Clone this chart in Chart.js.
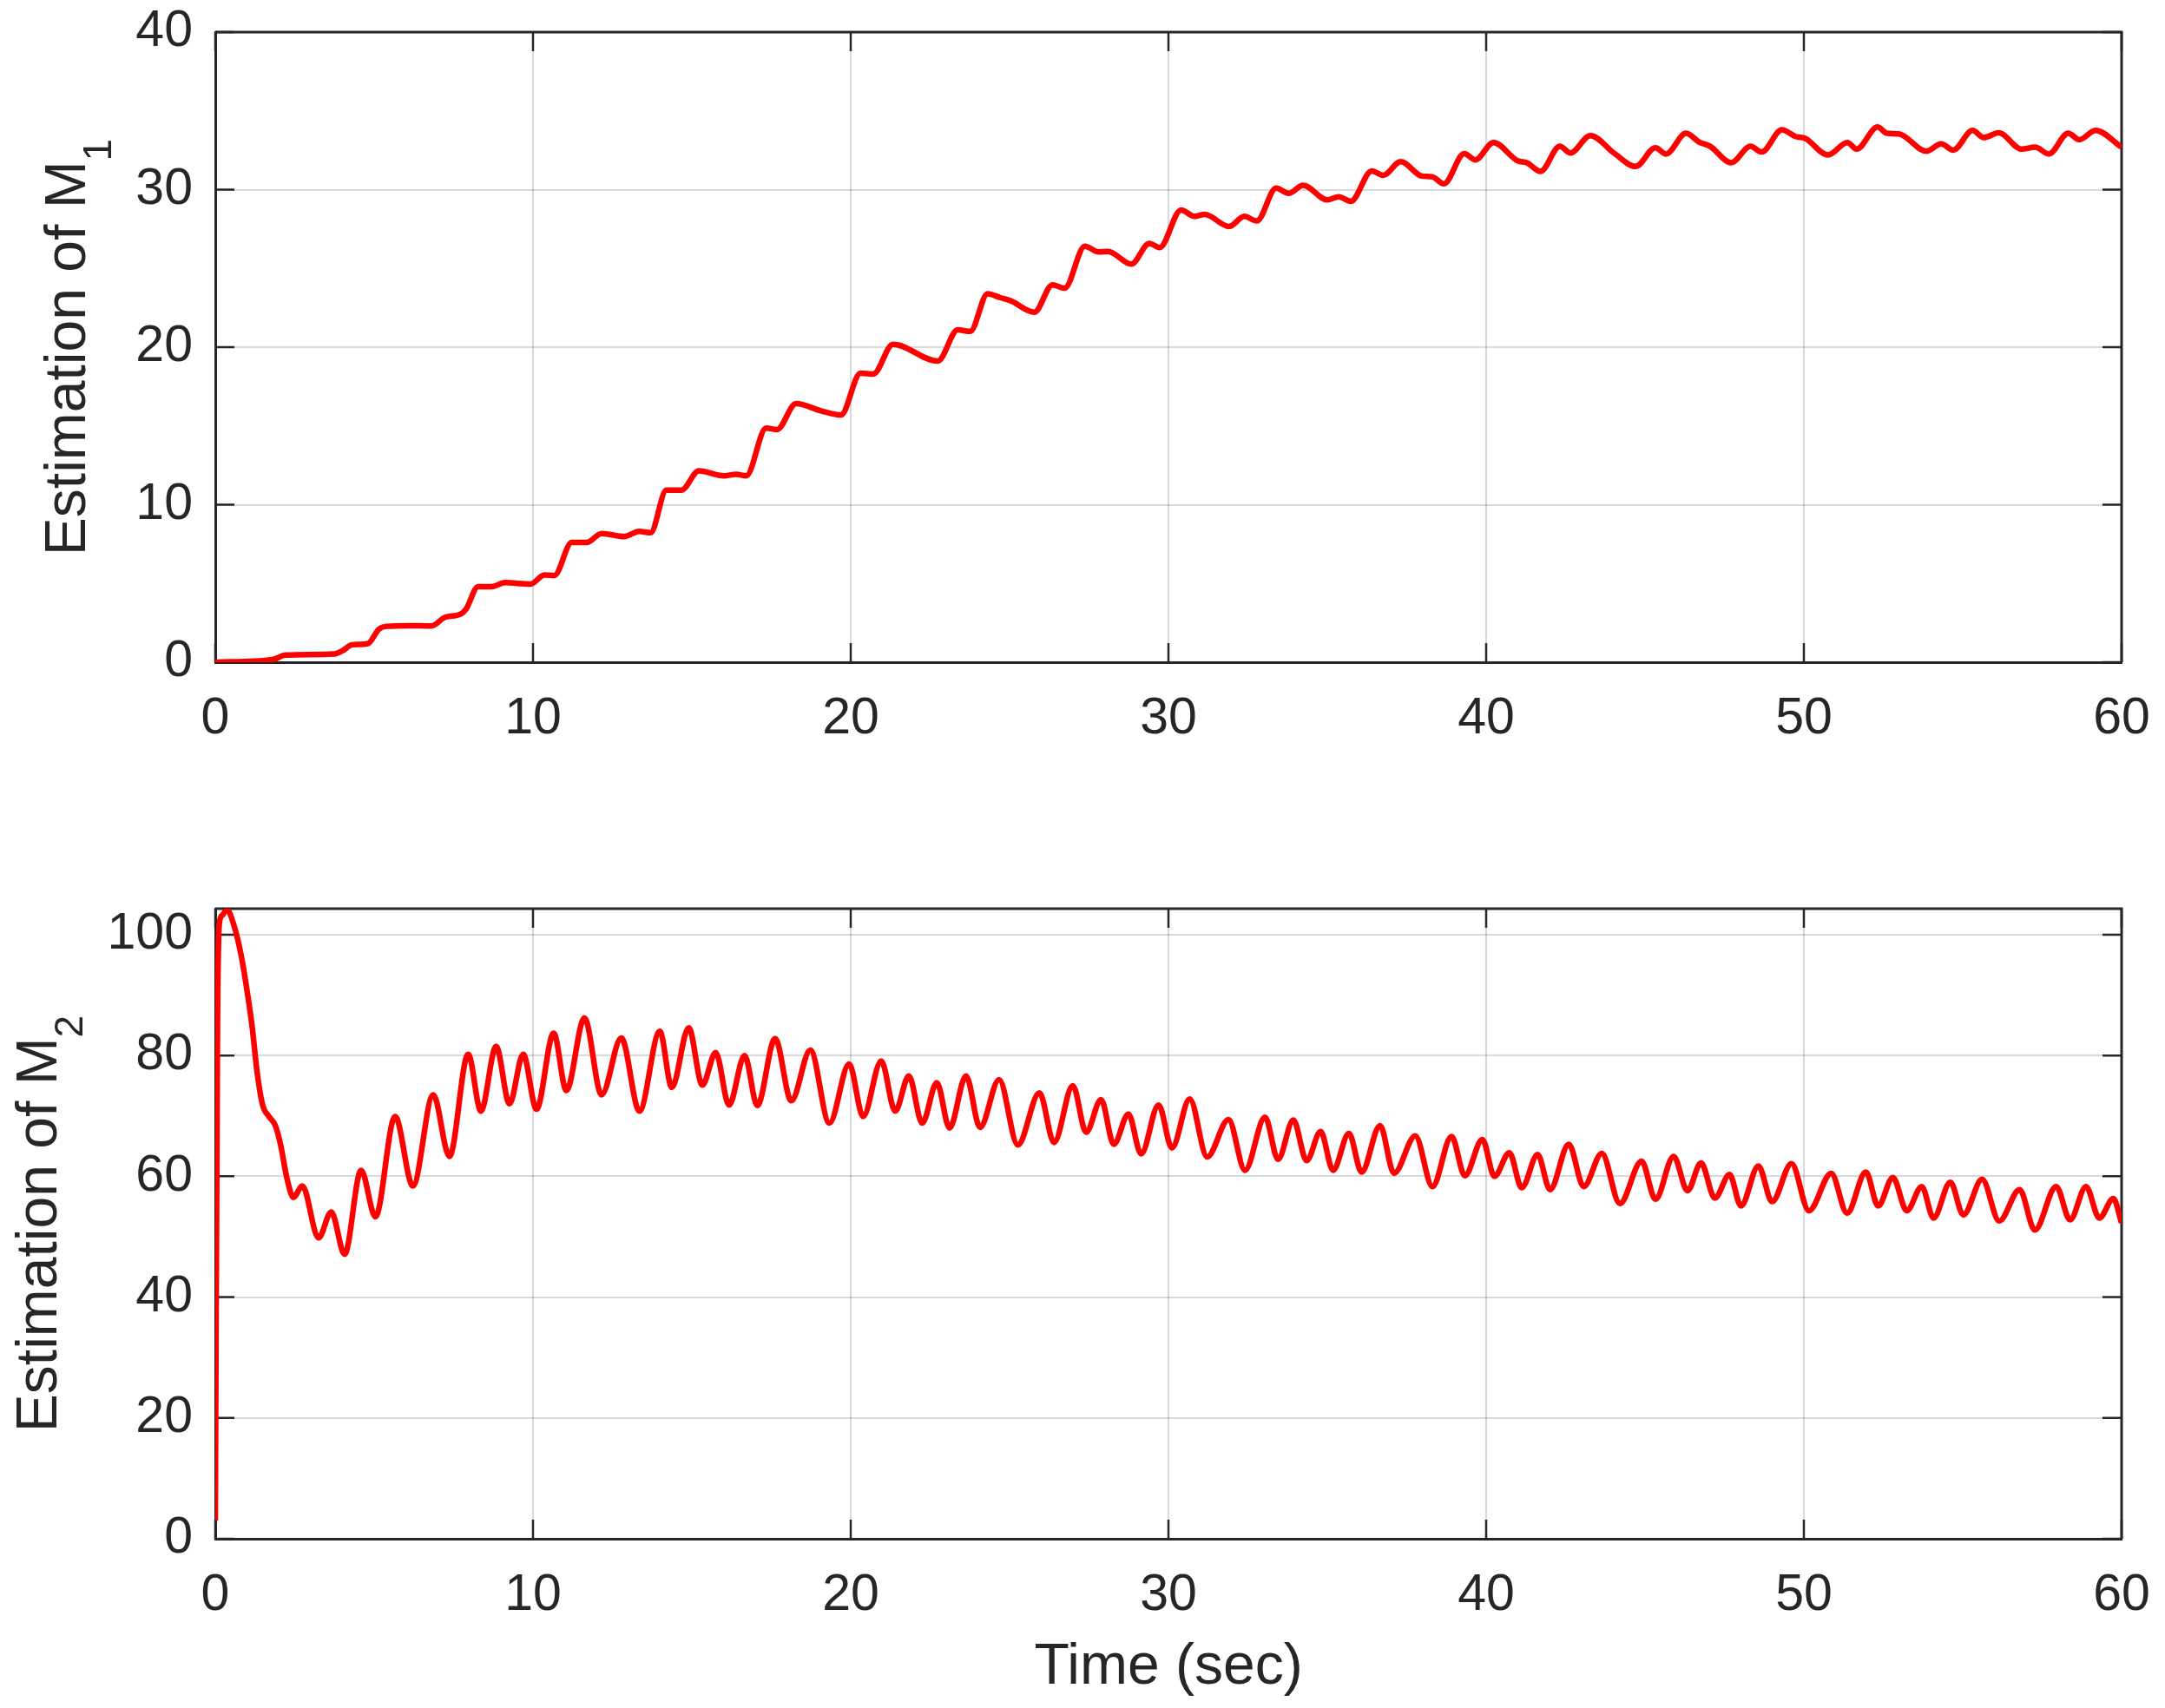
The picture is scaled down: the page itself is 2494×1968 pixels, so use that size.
<!DOCTYPE html>
<html>
<head>
<meta charset="utf-8">
<title>Estimation of M1 and M2</title>
<script src="https://cdn.jsdelivr.net/npm/chart.js@4.4.1/dist/chart.umd.min.js"></script>
<style>
  html, body { margin: 0; padding: 0; background: #fff; }
  canvas { position: absolute; left: 0; }
  #chart-m1 { top: 0; }
  #chart-m2 { top: 984px; }
</style>
</head>
<body>
<canvas id="chart-m1" width="2494" height="984"></canvas>
<canvas id="chart-m2" width="2494" height="984"></canvas>
<script>
// values (time in sec)
const timeTicks = [0, 10, 20, 30, 40, 50, 60];
const m1Ticks = [0, 10, 20, 30, 40];
const m2Ticks = [0, 20, 40, 60, 80, 100];

const m1Time = [0, 1.8, 2.22, 3.75, 4.0, 4.3, 4.8, 5.15, 5.4, 6.1, 6.8, 7.23, 7.72, 7.9, 8.27, 8.7, 9.12, 9.92,
  10.36, 10.67, 11.22, 11.69, 12.16, 12.87, 13.34, 13.7, 14.2, 14.67, 15.22, 16.0, 16.39, 16.71, 17.34, 17.68,
  18.28, 19.06, 19.69, 20.31, 20.71, 21.33, 22.74, 23.37, 23.76, 24.31, 24.71, 25.03, 25.78, 26.35, 26.73,
  27.37, 27.81, 28.1, 28.83, 29.4, 29.72, 30.4, 30.82, 31.14, 31.91, 32.39, 32.78, 33.39, 33.78, 34.24, 35.0,
  35.36, 35.74, 36.4, 36.76, 37.31, 37.98, 38.3, 38.67, 39.31, 39.66, 40.23, 40.99, 41.28, 41.71, 42.32, 42.65,
  43.28, 44.04, 44.7, 45.33, 45.66, 46.29, 46.7, 47.05, 47.71, 48.32, 48.67, 49.31, 49.75, 50.04, 50.76, 51.37,
  51.66, 52.32, 52.61, 52.99, 53.85, 54.32, 54.7, 55.31, 55.66, 56.13, 56.86, 57.28, 57.71, 58.32, 58.67,
  59.18, 60.0];
const m1Values = [0, 0.17, 0.45, 0.52, 0.72, 1.1, 1.18, 2.1, 2.28, 2.32, 2.3, 2.85, 3.05, 3.4, 4.8, 4.8, 5.05, 4.96,
  5.54, 5.5, 7.6, 7.6, 8.17, 7.98, 8.31, 8.22, 10.92, 10.92, 12.15, 11.83, 11.93, 11.83, 14.86, 14.77,
  16.42, 15.96, 15.69, 18.35, 18.29, 20.18, 19.12, 21.1, 21.0, 23.39, 23.14, 22.95, 22.22, 23.96, 23.74,
  26.41, 26.04, 26.08, 25.27, 26.59, 26.32, 28.71, 28.3, 28.43, 27.66, 28.3, 28.01, 30.09, 29.76, 30.27, 29.35,
  29.54, 29.26, 31.19, 30.91, 31.78, 30.86, 30.82, 30.37, 32.29, 31.89, 32.99, 31.83, 31.71, 31.16, 32.75, 32.33,
  33.43, 32.29, 31.47, 32.66, 32.26, 33.58, 33.03, 32.75, 31.71, 32.75, 32.39, 33.8, 33.36, 33.25, 32.2, 32.99,
  32.57, 33.98, 33.58, 33.54, 32.44, 32.9, 32.51, 33.76, 33.3, 33.61, 32.57, 32.7, 32.26, 33.58, 33.17,
  33.76, 32.7];

const m2Time = [0, 0.07, 0.13, 0.22, 0.36, 0.59, 0.81, 0.98, 1.15, 1.32, 1.49, 1.69, 1.89, 2.06, 2.25, 2.46, 2.74,
  3.25, 3.65, 4.07, 4.59, 5.04, 5.66, 6.22, 6.86, 7.37, 7.96, 8.36, 8.84, 9.26, 9.69, 10.11, 10.65, 11.05,
  11.62, 12.16, 12.78, 13.35, 13.99, 14.37, 14.9, 15.33, 15.75, 16.17, 16.66, 17.06, 17.62, 18.13, 18.73,
  19.33, 19.95, 20.39, 20.96, 21.4, 21.83, 22.25, 22.71, 23.11, 23.63, 24.07, 24.67, 25.26, 25.94, 26.4,
  26.99, 27.41, 27.88, 28.28, 28.74, 29.14, 29.69, 30.11, 30.67, 31.22, 31.89, 32.41, 33.04, 33.45, 33.93,
  34.35, 34.79, 35.18, 35.68, 36.08, 36.66, 37.1, 37.77, 38.31, 38.91, 39.33, 39.88, 40.26, 40.73, 41.12,
  41.62, 42.01, 42.6, 43.07, 43.64, 44.21, 44.89, 45.33, 45.9, 46.34, 46.76, 47.2, 47.66, 48.02, 48.57, 49.0,
  49.61, 50.16, 50.86, 51.36, 51.95, 52.34, 52.8, 53.24, 53.71, 54.08, 54.61, 55.02, 55.61, 56.15, 56.79,
  57.27, 57.94, 58.38, 58.88, 59.3, 59.74, 60.0];
const m2Values = [3, 85, 102, 103.2, 104.2, 101.5, 96.7, 91.4, 85.2, 77.1, 71.8, 69.9, 68.4, 65.1, 59.8, 56.5, 58.4,
  49.8, 54.1, 47.1, 61.0, 53.3, 69.9, 58.4, 73.5, 63.3, 80.2, 70.8, 81.5, 72.0, 80.2, 71.1, 83.7, 74.2,
  86.2, 73.5, 82.9, 70.8, 84.0, 74.7, 84.6, 75.1, 80.5, 71.8, 80.0, 71.7, 82.8, 72.5, 80.9,
  68.8, 78.6, 69.9, 79.1, 70.8, 76.6, 68.8, 75.5, 68.0, 76.6, 68.1, 76.0, 65.2, 73.8, 65.6,
  75.0, 67.3, 72.7, 65.3, 70.3, 63.7, 71.8, 64.7, 72.8, 63.2, 69.4, 61.0, 69.8, 62.8, 69.3,
  62.6, 67.4, 61.0, 67.1, 60.7, 68.4, 60.5, 66.7, 58.3, 66.6, 60.1, 66.1, 60.0, 63.9, 58.1,
  63.6, 57.8, 65.3, 58.3, 63.8, 55.5, 62.5, 56.2, 63.3, 57.6, 62.2, 56.4, 60.3, 55.1, 61.7, 55.8,
  62.1, 54.3, 60.5, 53.9, 60.7, 55.1, 59.8, 54.3, 58.3, 53.1, 59.0, 53.6, 59.5, 52.6, 57.8,
  51.1, 58.3, 52.8, 58.3, 53.1, 56.3, 52.3];

const AXIS_COLOR = "#262626";
const FONT = "'Liberation Sans', Arial, Helvetica, sans-serif";

// MATLAB-style box, inward ticks and titles (M with subscript)
const matlabAxes = {
  id: "matlabAxes",
  beforeDatasetsDraw(chart) {
    const { ctx, chartArea: a, scales } = chart;
    const len = 22;
    ctx.save();
    ctx.strokeStyle = AXIS_COLOR;
    ctx.lineWidth = 3;
    ctx.beginPath();
    ctx.moveTo(a.left, a.top);
    ctx.lineTo(a.right, a.top);
    ctx.lineTo(a.right, a.bottom);
    ctx.stroke();
    ctx.lineWidth = 2.5;
    ctx.beginPath();
    scales.x.ticks.forEach((t) => {
      const px = scales.x.getPixelForValue(t.value);
      ctx.moveTo(px, a.bottom);
      ctx.lineTo(px, a.bottom - len);
      ctx.moveTo(px, a.top);
      ctx.lineTo(px, a.top + len);
    });
    scales.y.ticks.forEach((t) => {
      const py = scales.y.getPixelForValue(t.value);
      ctx.moveTo(a.left, py);
      ctx.lineTo(a.left + len, py);
      ctx.moveTo(a.right, py);
      ctx.lineTo(a.right - len, py);
    });
    ctx.stroke();
    ctx.restore();
  },
  afterDraw(chart, args, opts) {
    const { ctx, chartArea: a } = chart;
    ctx.save();
    ctx.fillStyle = AXIS_COLOR;
    ctx.textBaseline = "alphabetic";
    ctx.textAlign = "left";

    // y title, rotated, with subscript
    ctx.font = "66px " + FONT;
    const w = ctx.measureText(opts.yTitle).width;
    ctx.font = "46px " + FONT;
    const ws = ctx.measureText(opts.ySub).width;
    ctx.translate(opts.yTitleX, (a.top + a.bottom) / 2);
    ctx.rotate(-Math.PI / 2);
    const x0 = -(w + ws) / 2;
    ctx.font = "66px " + FONT;
    ctx.fillText(opts.yTitle, x0, 0);
    ctx.font = "46px " + FONT;
    ctx.fillText(opts.ySub, x0 + w, 30);
    ctx.restore();

    if (opts.xTitle) {
      ctx.save();
      ctx.fillStyle = AXIS_COLOR;
      ctx.font = "66px " + FONT;
      ctx.textAlign = "center";
      ctx.textBaseline = "alphabetic";
      ctx.fillText(opts.xTitle, (a.left + a.right) / 2, opts.xTitleY);
      ctx.restore();
    }
  },
};

// keep tick labels from pushing the plot area around
function noLabelPadding(s) {
  s.paddingTop = 0;
  s.paddingBottom = 0;
  s.paddingLeft = 0;
  s.paddingRight = 0;
}

function makeChart(id, time, values, yTicks, yMax, pad, xHeight, titleOpts) {
  return new Chart(document.getElementById(id), {
    type: "line",
    data: {
      datasets: [
        {
          data: time.map((t, i) => ({ x: t, y: values[i] })),
          borderColor: "#ff0000",
          borderWidth: 6.5,
          pointRadius: 0,
          fill: false,
          cubicInterpolationMode: "monotone",
        },
      ],
    },
    options: {
      responsive: false,
      animation: false,
      devicePixelRatio: 1,
      layout: { padding: pad },
      scales: {
        x: {
          type: "linear",
          min: 0,
          max: 60,
          afterBuildTicks: (s) => {
            s.ticks = timeTicks.map((v) => ({ value: v }));
          },
          afterFit: (s) => {
            s.height = xHeight;
            noLabelPadding(s);
          },
          ticks: {
            color: AXIS_COLOR,
            font: { family: FONT, size: 59 },
            padding: 30,
            maxRotation: 0,
            callback: (v) => String(v),
          },
          grid: { color: "rgba(0,0,0,0.15)", lineWidth: 2, drawTicks: false },
          border: { color: AXIS_COLOR, width: 3 },
        },
        y: {
          min: 0,
          max: yMax,
          afterBuildTicks: (s) => {
            s.ticks = yTicks.map((v) => ({ value: v }));
          },
          afterFit: (s) => {
            s.width = 248;
            noLabelPadding(s);
          },
          ticks: {
            color: AXIS_COLOR,
            font: { family: FONT, size: 59 },
            padding: 26,
            callback: (v) => String(v),
          },
          grid: { color: "rgba(0,0,0,0.15)", lineWidth: 2, drawTicks: false },
          border: { color: AXIS_COLOR, width: 3 },
        },
      },
      plugins: {
        legend: { display: false },
        tooltip: { enabled: false },
        matlabAxes: titleOpts,
      },
    },
    plugins: [matlabAxes],
  });
}

makeChart("chart-m1", m1Time, m1Values, m1Ticks, 40,
  { top: 37, right: 50, bottom: 0, left: 0 }, 221,
  { yTitle: "Estimation of M", ySub: "1", yTitleX: 98 });

makeChart("chart-m2", m2Time, m2Values, m2Ticks, 104.3,
  { top: 63, right: 50, bottom: 0, left: 0 }, 195,
  { yTitle: "Estimation of M", ySub: "2", yTitleX: 65, xTitle: "Time (sec)", xTitleY: 956 });
</script>
</body>
</html>
